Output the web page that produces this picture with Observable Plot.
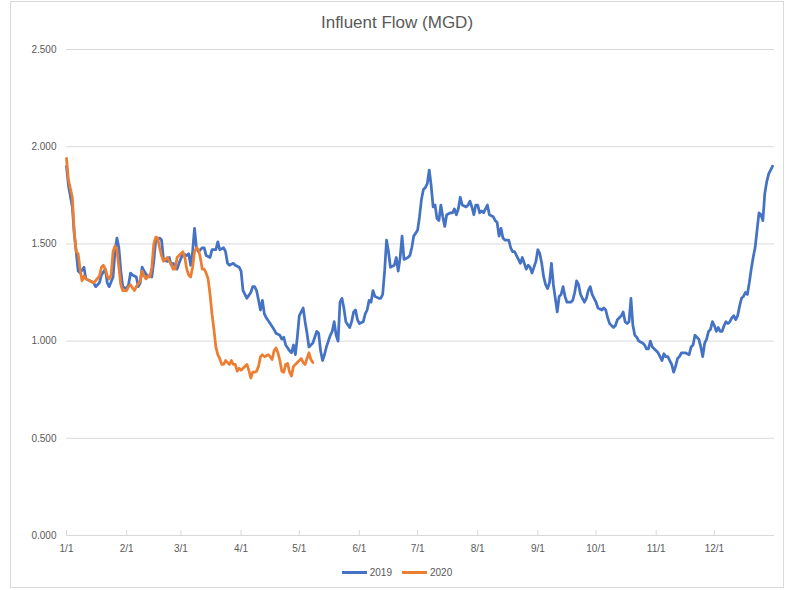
<!DOCTYPE html>
<html><head><meta charset="utf-8">
<script src="https://cdn.jsdelivr.net/npm/d3@7"></script>
<script src="https://cdn.jsdelivr.net/npm/@observablehq/plot@0.6"></script>
<style>
body{margin:0;background:#fff;font-family:"Liberation Sans",Arial,sans-serif;}
#wrap{position:relative;width:791px;height:590px;overflow:hidden;background:#fff;}
#frame{position:absolute;left:10px;top:1px;width:774px;height:587px;border:1px solid #d9d9d9;box-sizing:border-box;}
#title{position:absolute;left:10px;width:774px;top:13px;text-align:center;font-size:17px;color:#595959;}
#chart{position:absolute;left:0;top:0;}
#legend{position:absolute;left:10px;width:774px;top:567px;display:flex;justify-content:center;align-items:center;font-size:10px;color:#595959;}
.item{display:flex;align-items:center;margin:0 5px;}
.sw{display:inline-block;width:25px;height:3px;margin-right:3px;}
</style></head>
<body>
<div id="wrap">
  <div id="frame"></div>
  <div id="chart"></div>
  <div id="title">Influent Flow (MGD)</div>
  <div id="legend"></div>
</div>
<script>
const seriesNames = ["2019", "2020"];
const seriesColors = ["#4472C4", "#ED7D31"];
const yTicks = [0, 0.5, 1.0, 1.5, 2.0, 2.5];
const monthTicks = [0, 31, 59, 90, 120, 151, 181, 212, 243, 273, 304, 334];
const monthLabels = ["1/1","2/1","3/1","4/1","5/1","6/1","7/1","8/1","9/1","10/1","11/1","12/1"];

// [day of year (0 = Jan 1), flow MGD]
const flow2019 = [[0,1.90],[1,1.80],[3,1.69],[4,1.55],[5,1.46],[6,1.36],[7,1.35],[9,1.38],[10,1.32],[12,1.31],[14,1.30],[15,1.28],[17,1.30],[18,1.34],[20,1.37],[21,1.30],[22,1.28],[24,1.33],[25,1.46],[26,1.53],[27,1.48],[28,1.36],[29,1.28],[31,1.27],[32,1.29],[33,1.35],[34,1.34],[36,1.33],[37,1.28],[38,1.30],[39,1.38],[40,1.36],[42,1.33],[43,1.34],[44,1.33],[45,1.41],[46,1.52],[48,1.53],[49,1.52],[50,1.42],[52,1.41],[53,1.43],[54,1.39],[55,1.40],[57,1.37],[58,1.40],[60,1.45],[62,1.44],[63,1.45],[64,1.39],[65,1.46],[66,1.58],[67,1.48],[68,1.46],[70,1.48],[71,1.48],[72,1.44],[74,1.43],[75,1.47],[77,1.47],[78,1.51],[79,1.47],[81,1.48],[82,1.46],[83,1.40],[84,1.39],[86,1.40],[87,1.39],[89,1.38],[90,1.36],[91,1.26],[92,1.24],[93,1.22],[95,1.25],[96,1.28],[97,1.28],[98,1.26],[100,1.16],[101,1.21],[102,1.14],[103,1.12],[105,1.09],[107,1.06],[108,1.04],[110,1.03],[111,1.01],[112,1.02],[113,0.98],[115,0.95],[116,0.94],[117,0.98],[118,0.93],[119,1.02],[120,1.13],[121,1.15],[122,1.17],[123,1.10],[124,1.04],[125,0.97],[127,0.99],[128,1.02],[129,1.05],[130,1.04],[131,0.95],[132,0.90],[133,0.93],[134,0.97],[136,1.03],[137,1.05],[138,1.10],[139,1.03],[140,1.00],[141,1.20],[142,1.22],[143,1.17],[144,1.10],[146,1.07],[147,1.10],[148,1.15],[149,1.16],[150,1.11],[151,1.09],[153,1.10],[154,1.14],[155,1.16],[156,1.21],[157,1.20],[158,1.26],[159,1.23],[161,1.22],[162,1.22],[163,1.24],[164,1.36],[165,1.52],[166,1.46],[167,1.38],[169,1.39],[170,1.43],[171,1.36],[172,1.43],[173,1.54],[174,1.42],[176,1.43],[177,1.44],[178,1.48],[179,1.54],[181,1.57],[182,1.64],[183,1.73],[184,1.78],[185,1.79],[186,1.81],[187,1.88],[188,1.80],[189,1.69],[190,1.70],[191,1.63],[192,1.62],[193,1.70],[194,1.64],[195,1.59],[196,1.65],[198,1.66],[199,1.66],[200,1.68],[201,1.65],[202,1.68],[203,1.74],[204,1.70],[206,1.69],[207,1.70],[208,1.72],[209,1.69],[210,1.65],[211,1.70],[212,1.70],[213,1.66],[214,1.67],[215,1.66],[216,1.68],[217,1.70],[218,1.65],[220,1.64],[221,1.62],[222,1.61],[223,1.54],[224,1.58],[225,1.53],[226,1.52],[228,1.52],[229,1.48],[230,1.46],[231,1.46],[233,1.42],[234,1.40],[235,1.43],[237,1.37],[238,1.39],[239,1.38],[240,1.35],[242,1.41],[243,1.47],[244,1.45],[245,1.40],[246,1.33],[247,1.29],[248,1.27],[249,1.30],[250,1.40],[251,1.29],[252,1.22],[253,1.15],[254,1.23],[255,1.24],[256,1.28],[257,1.23],[258,1.20],[260,1.20],[261,1.21],[262,1.25],[263,1.31],[264,1.29],[265,1.24],[266,1.22],[267,1.20],[268,1.22],[269,1.26],[270,1.28],[271,1.24],[272,1.22],[273,1.20],[274,1.17],[276,1.16],[277,1.17],[278,1.16],[279,1.12],[280,1.09],[282,1.07],[283,1.08],[284,1.11],[285,1.12],[286,1.13],[287,1.15],[288,1.10],[289,1.09],[290,1.10],[291,1.22],[292,1.08],[293,1.03],[294,1.02],[295,1.00],[297,0.99],[298,0.98],[299,0.96],[300,0.96],[301,1.00],[302,0.97],[304,0.95],[305,0.94],[306,0.92],[307,0.90],[308,0.935],[309,0.92],[310,0.92],[311,0.90],[312,0.88],[313,0.84],[314,0.87],[315,0.91],[316,0.92],[317,0.94],[319,0.94],[320,0.935],[321,0.93],[322,0.97],[323,0.98],[324,1.03],[325,1.02],[326,1.01],[327,0.97],[328,0.92],[329,0.99],[330,1.01],[331,1.05],[332,1.06],[333,1.10],[334,1.08],[335,1.05],[336,1.07],[337,1.05],[338,1.05],[339,1.08],[340,1.10],[341,1.09],[342,1.10],[343,1.12],[344,1.13],[345,1.11],[346,1.13],[347,1.18],[348,1.22],[349,1.23],[350,1.25],[351,1.24],[352,1.30],[353,1.37],[354,1.43],[355,1.48],[356,1.57],[357,1.66],[358,1.65],[359,1.62],[360,1.76],[361,1.82],[362,1.86],[363,1.88],[364,1.90]];

const flow2020 = [[0,1.94],[1,1.83],[3,1.74],[4,1.56],[5,1.46],[6,1.45],[7,1.37],[8,1.31],[9,1.335],[10,1.32],[12,1.31],[14,1.30],[15,1.31],[17,1.335],[18,1.38],[19,1.39],[20,1.37],[21,1.335],[22,1.32],[23,1.34],[24,1.46],[25,1.49],[26,1.47],[27,1.38],[28,1.29],[29,1.26],[31,1.26],[32,1.28],[33,1.29],[34,1.275],[35,1.26],[36,1.28],[38,1.31],[39,1.36],[40,1.335],[41,1.32],[42,1.335],[43,1.33],[44,1.38],[45,1.50],[46,1.535],[47,1.53],[48,1.48],[49,1.44],[50,1.41],[52,1.43],[53,1.41],[54,1.395],[55,1.37],[56,1.37],[57,1.43],[58,1.44],[60,1.46],[61,1.43],[62,1.37],[63,1.34],[64,1.33],[65,1.38],[66,1.46],[67,1.48],[68,1.47],[69,1.43],[70,1.37],[71,1.37],[72,1.35],[73,1.32],[74,1.24],[75,1.14],[76,1.06],[77,0.97],[78,0.93],[79,0.91],[80,0.88],[81,0.88],[82,0.90],[84,0.88],[85,0.90],[86,0.88],[87,0.88],[88,0.845],[89,0.86],[90,0.85],[91,0.86],[93,0.88],[94,0.85],[95,0.81],[96,0.84],[97,0.84],[98,0.845],[99,0.87],[100,0.92],[101,0.93],[102,0.92],[104,0.93],[105,0.92],[106,0.905],[107,0.95],[108,0.965],[109,0.94],[110,0.90],[111,0.845],[112,0.84],[113,0.88],[114,0.885],[115,0.84],[116,0.82],[117,0.87],[118,0.88],[119,0.89],[120,0.90],[121,0.91],[122,0.89],[123,0.88],[125,0.94],[126,0.905],[127,0.89]];

const labelOf = new Map(monthTicks.map((d, i) => [d, monthLabels[i]]));

const chart = Plot.plot({
  width: 791,
  height: 560,
  marginLeft: 66,
  marginRight: 17,
  marginTop: 49,
  marginBottom: 25,
  style: {fontFamily: "'Liberation Sans', Arial, sans-serif", fontSize: "10px", color: "#595959", background: "transparent"},
  x: {domain: [0, 365], axis: null},
  y: {domain: [0, 2.5], axis: null},
  marks: [
    Plot.ruleY(yTicks, {stroke: "#d9d9d9", strokeWidth: 1}),
    Plot.ruleX(monthTicks, {y1: 0, y2: 0.026, stroke: "#d9d9d9"}),
    Plot.axisY(yTicks, {tickSize: 0, tickPadding: 10, tickFormat: d3.format(".3f"), label: null}),
    Plot.axisX(monthTicks, {tickSize: 0, tickPadding: 9, tickFormat: d => labelOf.get(d), label: null}),
    Plot.line(flow2019, {x: d => d[0], y: d => d[1], stroke: seriesColors[0], strokeWidth: 2.75, strokeLinejoin: "round"}),
    Plot.line(flow2020, {x: d => d[0], y: d => d[1], stroke: seriesColors[1], strokeWidth: 2.75, strokeLinejoin: "round"})
  ]
});
document.getElementById("chart").appendChild(chart);

const legend = document.getElementById("legend");
seriesNames.forEach((name, i) => {
  const item = document.createElement("div");
  item.className = "item";
  const sw = document.createElement("span");
  sw.className = "sw";
  sw.style.background = seriesColors[i];
  const t = document.createElement("span");
  t.textContent = name;
  item.appendChild(sw);
  item.appendChild(t);
  legend.appendChild(item);
});
</script>
</body></html>
